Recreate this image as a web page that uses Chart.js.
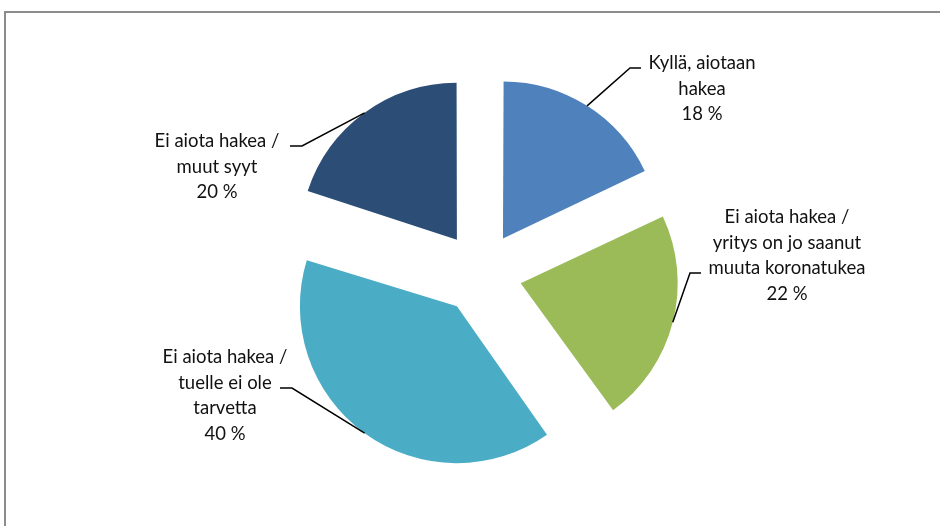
<!DOCTYPE html>
<html>
<head>
<meta charset="utf-8">
<script src="https://cdn.jsdelivr.net/npm/chart.js@4.4.1/dist/chart.umd.min.js"></script>
<style>
  html, body { margin: 0; padding: 0; background: #fff; }
  #wrap { position: relative; width: 940px; height: 526px; overflow: hidden; }
  #frame { position: absolute; left: 4px; top: 11px; width: 980px; height: 560px; border: 2px solid #8c8c8c; box-sizing: border-box; }
  canvas { position: absolute; left: 0; top: 0; }
</style>
</head>
<body>
<div id="wrap">
  <div id="frame"></div>
  <canvas id="myChart" width="940" height="526"></canvas>
</div>
<script>
  // slice names (split into lines like the original labels) and shares in %
  const categories = [
    ["Kyllä, aiotaan", "hakea"],
    ["Ei aiota hakea /", "yritys on jo saanut", "muuta koronatukea"],
    ["Ei aiota hakea /", "tuelle ei ole", "tarvetta"],
    ["Ei aiota hakea /", "muut syyt"]
  ];
  const shares = [18, 22, 40, 20];
  const bgColor = ["#4F81BD", "#9BBB59", "#4BACC6", "#2C4D75"];

  // where each label sits: text centre x, first line y, leader elbow and stub end
  const labelLayout = [
    { x: 702, y: 63, elbow: [630, 68], stub: [641, 68] },
    { x: 787, y: 217, elbow: [690, 273], stub: [701, 273] },
    { x: 225, y: 357, elbow: [292, 388], stub: [280, 388] },
    { x: 217, y: 141, elbow: [302, 146], stub: [290, 146] }
  ];
  const LINE_H = 25.7;

  // chart.js grows small exploded slices a bit, undo that so all slices share one radius
  const sameRadius = {
    id: "sameRadius",
    beforeDatasetsDraw(chart) {
      const meta = chart.getDatasetMeta(0);
      const R = meta.controller.outerRadius;
      meta.data.forEach((arc) => {
        const shift = (arc.options.offset || 0) / 4;
        const fix = 1 - Math.sin(Math.min(Math.PI, arc.circumference));
        arc.outerRadius = R - shift * fix;
      });
    }
  };

  // outside labels with leader lines
  const outsideLabels = {
    id: "outsideLabels",
    afterDatasetsDraw(chart) {
      const ctx = chart.ctx;
      const meta = chart.getDatasetMeta(0);
      const R = meta.controller.outerRadius;
      ctx.save();
      meta.data.forEach((arc, i) => {
        const mid = (arc.startAngle + arc.endAngle) / 2;
        const shift = (arc.options.offset || 0) / 4;
        const ax = arc.x + Math.cos(mid) * (R + shift);
        const ay = arc.y + Math.sin(mid) * (R + shift);
        const lay = labelLayout[i];

        ctx.strokeStyle = "#000";
        ctx.lineWidth = 1.5;
        ctx.beginPath();
        ctx.moveTo(ax, ay);
        ctx.lineTo(lay.elbow[0], lay.elbow[1]);
        ctx.lineTo(lay.stub[0], lay.stub[1]);
        ctx.stroke();

        const lines = categories[i].concat([shares[i] + " %"]);
        ctx.fillStyle = "#111";
        ctx.font = "18.5px Lato";
        ctx.textAlign = "center";
        ctx.textBaseline = "middle";
        lines.forEach((txt, k) => {
          ctx.fillText(txt, lay.x, lay.y + k * LINE_H);
        });
      });
      ctx.restore();
    }
  };

  const ctx = document.getElementById("myChart");
  new Chart(ctx, {
    type: "pie",
    data: {
      labels: categories.map((c) => c.join(" ")),
      datasets: [{
        data: shares,
        backgroundColor: bgColor,
        borderWidth: 0,
        offset: 164
      }]
    },
    options: {
      responsive: false,
      animation: false,
      events: [],
      devicePixelRatio: 1,
      radius: 157,
      layout: { padding: { left: 22, right: 0, top: 20, bottom: 0 } },
      plugins: {
        legend: { display: false },
        tooltip: { enabled: false }
      }
    },
    plugins: [sameRadius, outsideLabels]
  });
</script>
</body>
</html>
